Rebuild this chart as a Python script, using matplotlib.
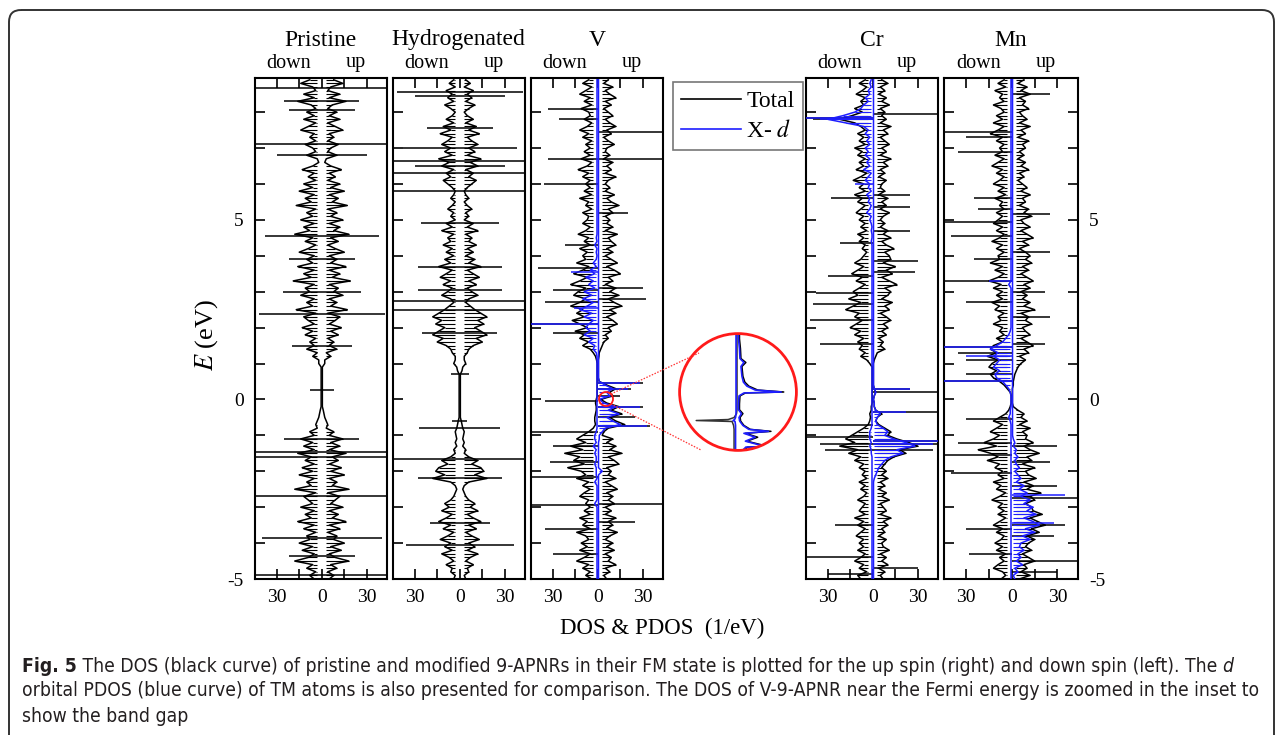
import numpy as np
import matplotlib
matplotlib.use("Agg")
import matplotlib.pyplot as plt
from matplotlib import patches
from matplotlib.lines import Line2D
from matplotlib.font_manager import fontManager

plt.rcParams['font.family'] = ['Liberation Serif', 'DejaVu Serif']
plt.rcParams['mathtext.fontset'] = 'stix'

W, H = 1281, 735

# ---------------- data (energy grid 8.9 ... -5.0 eV, step 0.1) ----------------
E_TOP, E_STEP, N_E = 8.9, 0.1, 140
energy = np.round(E_TOP - E_STEP * np.arange(N_E), 2)

panel_titles = ['Pristine', 'Hydrogenated', 'V', 'Cr', 'Mn']
xtick_vals = [-30, -15, 0, 15, 30]
xtick_labels = ['30', '', '0', '', '30']
ytick_labels = {5: '5', 0: '0', -5: '-5'}

# Pristine (non-magnetic: up = down)
pristine_dos = [
    8, 14, 6, 4, 12, 5, 16, 7, 4, 10,
    5, 12, 4, 9, 14, 5, 8, 4, 11, 6,
    4, 10, 3, 2, 6, 13, 5, 9, 4, 12,
    6, 15, 5, 11, 7, 17, 4, 10, 6, 14,
    5, 12, 8, 18, 6, 11, 4, 9, 15, 5,
    10, 6, 16, 5, 12, 7, 19, 5, 11, 8,
    14, 5, 10, 6, 17, 4, 12, 9, 5, 13,
    6, 11, 4, 8, 5, 10, 3, 6, 2, 2,
    0.4, 0.4, 0.4, 0.4, 0.4, 0.4, 0.4, 0.4, 0.4, 0.4,
    0.4, 0.4, 1, 1.5, 2, 3, 4, 3, 8, 5,
    14, 6, 12, 5, 16, 7, 11, 5, 13, 6,
    15, 5, 10, 7, 18, 4, 12, 9, 6, 14,
    5, 11, 7, 16, 5, 12, 4, 10, 8, 15,
    6, 13, 5, 9, 18, 6, 10, 4, 8, 5]
pristine_spikes = [(8.66, 60), (8.3, 25), (8.05, 22), (7.1, 60), (6.8, 30), (4.55, 38),
                   (3.9, 22), (3.0, 26), (2.37, 42), (1.5, 20), (0.25, 8), (-1.1, 25),
                   (-1.45, 60), (-1.6, 60), (-2.7, 60), (-3.85, 40), (-4.35, 22), (-4.88, 60)]

# Hydrogenated (non-magnetic: up = down)
hydro_dos = [
    4, 7, 3, 9, 5, 8, 4, 10, 6, 3,
    5, 9, 4, 11, 6, 13, 5, 8, 12, 6,
    10, 5, 14, 7, 12, 4, 9, 6, 11, 8,
    5, 3, 4, 6, 3, 5, 8, 4, 6, 3,
    9, 5, 12, 4, 8, 6, 11, 5, 9, 4,
    10, 6, 14, 5, 9, 13, 6, 11, 5, 8,
    12, 6, 4, 7, 10, 14, 18, 12, 16, 10,
    14, 18, 11, 15, 9, 6, 5, 3, 3, 4,
    2, 1.5, 0.4, 0.4, 0.4, 0.4, 0.4, 0.4, 0.4, 0.4,
    0.4, 0.4, 0.4, 0.4, 0.4, 1, 1.5, 2, 3, 2.5,
    2, 3, 2, 4, 3, 6, 12, 8, 14, 16,
    10, 18, 6, 3, 2, 3, 4, 6, 10, 7,
    12, 5, 9, 14, 6, 11, 4, 8, 13, 6,
    10, 5, 12, 7, 4, 9, 5, 6, 3, 4]
hydro_spikes = [(8.55, 42), (8.45, 30), (7.55, 22), (7.0, 38), (6.65, 60), (6.5, 30),
                (6.3, 60), (5.8, 60), (4.9, 26), (3.7, 28), (3.05, 28), (2.75, 60),
                (2.5, 45), (1.85, 25), (0.7, 6), (-0.6, 5), (-0.8, 27), (-1.65, 60),
                (-2.2, 28), (-3.45, 20), (-4.05, 36)]

# V
v_dn = [
    6, 10, 4, 8, 12, 5, 9, 4, 11, 6,
    5, 9, 4, 7, 12, 6, 10, 4, 8, 5,
    9, 5, 11, 4, 7, 13, 6, 10, 5, 8,
    5, 9, 4, 12, 6, 8, 4, 10, 6, 7,
    10, 5, 8, 13, 6, 9, 5, 12, 7, 10,
    8, 14, 6, 10, 16, 7, 12, 18, 8, 13,
    16, 8, 12, 18, 10, 14, 9, 17, 12, 7,
    15, 9, 12, 6, 10, 5, 3, 1.5, 0.8, 0.4,
    0.4, 0.4, 0.4, 0.4, 0.4, 0.4, 0.4, 0.4, 0.4, 1,
    1.5, 1, 1, 1.5, 2, 2, 1.5, 3, 6, 10,
    14, 8, 18, 10, 22, 12, 16, 9, 20, 11,
    8, 14, 6, 10, 5, 9, 12, 6, 8, 5,
    9, 5, 12, 7, 10, 5, 14, 8, 6, 11,
    7, 12, 5, 9, 14, 6, 10, 5, 8, 4]
v_dn_spikes = [(8.1, 33), (7.8, 26), (6.7, 33), (6.0, 36), (4.3, 22), (3.65, 40), (3.05, 30),
               (2.7, 35), (2.1, 60), (1.85, 30), (-0.05, 35), (-0.9, 60), (-1.3, 30),
               (-1.75, 32), (-2.15, 60), (-2.95, 60), (-3.6, 35), (-4.3, 30)]
v_up = [
    7, 4, 10, 5, 8, 12, 5, 9, 4, 7,
    10, 5, 8, 12, 6, 9, 4, 7, 11, 6,
    5, 8, 4, 10, 6, 9, 5, 12, 7, 5,
    8, 5, 11, 6, 9, 14, 7, 10, 5, 8,
    6, 10, 5, 13, 7, 9, 12, 6, 10, 5,
    9, 13, 6, 11, 15, 7, 10, 5, 12, 8,
    14, 7, 11, 16, 8, 12, 6, 10, 13, 7,
    9, 5, 7, 4, 3, 2, 1, 0.8, 0.4, 0.4,
    0.4, 0.4, 0.4, 0.4, 1, 6, 12, 8, 10, 2,
    6, 14, 9, 16, 8, 12, 18, 7, 4, 3,
    10, 6, 12, 8, 16, 7, 11, 14, 6, 9,
    7, 12, 5, 9, 13, 6, 10, 7, 11, 5,
    9, 5, 12, 7, 10, 6, 13, 8, 5, 10,
    6, 11, 5, 9, 7, 12, 5, 8, 4, 6]
v_up_spikes = [(7.45, 60), (6.7, 60), (5.2, 20), (3.1, 30), (2.8, 32), (0.45, 30), (0.3, 22),
               (0.1, 15), (-0.2, 30), (-0.5, 25), (-0.75, 35), (-2.9, 60), (-3.4, 25)]
v_d_dn = [
    0.5, 0.5, 0.5, 0.5, 0.5, 0.5, 0.5, 0.5, 0.5, 0.5,
    0.5, 0.5, 0.5, 0.5, 0.5, 0.5, 0.5, 0.5, 0.5, 0.5,
    0.5, 0.5, 0.5, 0.5, 0.5, 0.5, 0.5, 0.5, 0.5, 0.5,
    0.5, 0.5, 0.5, 0.5, 0.5, 0.5, 0.5, 0.5, 0.5, 0.5,
    0.5, 0.5, 0.5, 0.5, 1, 0.5, 2, 0.5, 1, 0.5,
    1, 3, 1, 5, 2, 8, 3, 6, 2, 9,
    4, 10, 3, 7, 12, 4, 9, 3, 6, 8,
    5, 9, 3, 6, 2, 3, 1, 0.5, 0.5, 0.5,
    0.5, 0.5, 0.5, 0.5, 0.5, 0.5, 0.5, 0.5, 0.5, 0.5,
    0.5, 0.5, 0.5, 0.5, 0.5, 0.5, 0.5, 0.5, 1, 2,
    2, 1, 3, 1, 2, 1, 1, 2, 1, 1,
    1, 0.5, 2, 0.5, 0.5, 0.5, 0.5, 0.5, 2, 0.5,
    0.5, 0.5, 0.5, 0.5, 0.5, 0.5, 0.5, 0.5, 0.5, 0.5,
    0.5, 0.5, 0.5, 0.5, 0.5, 0.5, 0.5, 0.5, 0.5, 0.5]
v_d_dn_spikes = [(3.55, 18), (2.55, 16), (2.1, 45)]
v_d_up = [
    0.5, 0.5, 0.5, 0.5, 0.5, 0.5, 0.5, 0.5, 0.5, 0.5,
    0.5, 0.5, 0.5, 0.5, 0.5, 0.5, 0.5, 0.5, 0.5, 0.5,
    0.5, 0.5, 0.5, 0.5, 0.5, 0.5, 0.5, 0.5, 0.5, 0.5,
    0.5, 0.5, 0.5, 0.5, 0.5, 0.5, 0.5, 0.5, 0.5, 0.5,
    0.5, 0.5, 0.5, 0.5, 0.5, 0.5, 0.5, 0.5, 0.5, 0.5,
    0.5, 0.5, 0.5, 0.5, 0.5, 0.5, 0.5, 0.5, 0.5, 0.5,
    0.5, 0.5, 0.5, 0.5, 0.5, 0.5, 0.5, 0.5, 0.5, 0.5,
    0.5, 0.5, 0.5, 0.5, 0.5, 0.5, 0.5, 0.5, 0.5, 0.5,
    0.5, 0.5, 0.5, 0.5, 1, 5, 10, 6, 8, 1,
    4, 12, 7, 14, 6, 10, 15, 5, 3, 1,
    1, 0.5, 0.5, 0.5, 0.5, 0.5, 0.5, 0.5, 0.5, 3,
    0.5, 0.5, 0.5, 0.5, 0.5, 0.5, 0.5, 0.5, 0.5, 0.5,
    0.5, 0.5, 0.5, 0.5, 0.5, 0.5, 0.5, 0.5, 0.5, 0.5,
    0.5, 0.5, 0.5, 0.5, 0.5, 0.5, 0.5, 0.5, 0.5, 0.5]
v_d_up_spikes = [(0.45, 28), (0.3, 20), (-0.2, 28), (-0.75, 33)]

# Cr
cr_dn = [
    5, 9, 4, 7, 11, 5, 8, 6, 12, 7,
    14, 22, 12, 8, 5, 10, 6, 9, 5, 12,
    7, 10, 5, 9, 6, 11, 4, 8, 13, 6,
    9, 5, 12, 7, 10, 5, 8, 11, 6, 9,
    5, 8, 4, 10, 6, 9, 5, 7, 4, 6,
    8, 12, 6, 10, 14, 7, 11, 5, 9, 13,
    10, 16, 8, 13, 18, 9, 12, 7, 11, 15,
    8, 12, 6, 10, 7, 9, 5, 8, 4, 2,
    0.4, 0.4, 0.4, 0.4, 0.4, 0.4, 0.4, 0.4, 0.4, 0.4,
    0.4, 1, 1, 2, 1.5, 2, 3, 6, 10, 14,
    18, 12, 22, 10, 16, 8, 12, 6, 9, 5,
    7, 4, 9, 5, 8, 4, 6, 10, 5, 7,
    9, 5, 12, 6, 10, 5, 8, 11, 6, 9,
    6, 10, 5, 8, 12, 6, 9, 4, 10, 8]
cr_dn_spikes = [(7.85, 60), (7.8, 40), (5.6, 28), (4.35, 22), (3.45, 30), (2.95, 38),
                (2.65, 40), (2.2, 42), (1.55, 35), (-0.72, 60), (-1.05, 60), (-1.25, 35),
                (-1.4, 32), (-3.5, 25), (-4.4, 45), (-4.85, 30)]
cr_up = [
    6, 10, 5, 8, 4, 9, 6, 11, 5, 8,
    6, 9, 5, 12, 7, 10, 5, 8, 11, 6,
    9, 5, 12, 7, 10, 5, 8, 4, 9, 6,
    5, 8, 4, 10, 6, 9, 5, 11, 7, 5,
    8, 5, 10, 7, 12, 6, 9, 14, 8, 11,
    12, 7, 15, 9, 13, 6, 11, 16, 8, 12,
    10, 6, 13, 8, 11, 5, 9, 12, 7, 10,
    6, 9, 4, 7, 5, 8, 3, 2, 1, 0.4,
    0.4, 0.4, 0.4, 0.4, 0.4, 0.4, 1, 2, 1, 0.4,
    1, 1, 2, 6, 3, 2, 4, 8, 12, 10,
    16, 24, 30, 18, 22, 14, 10, 8, 6, 9,
    6, 10, 5, 8, 4, 9, 6, 11, 5, 7,
    9, 5, 12, 7, 10, 6, 8, 4, 9, 6,
    7, 11, 5, 9, 6, 10, 4, 8, 5, 7]
cr_up_spikes = [(7.95, 60), (5.7, 25), (5.35, 25), (4.7, 25), (3.85, 30), (3.55, 28),
                (0.3, 25), (0.22, 60), (-0.35, 60), (-1.15, 60), (-1.25, 60), (-1.4, 40),
                (-4.7, 30)]
cr_d_dn = [
    1, 2, 1, 3, 2, 5, 3, 6, 8, 12,
    20, 30, 18, 6, 3, 5, 2, 4, 2, 5,
    3, 5, 2, 4, 2, 6, 1, 3, 5, 2,
    3, 1, 4, 2, 3, 1, 2, 4, 1, 2,
    1, 0.5, 1, 0.5, 0.5, 1, 0.5, 0.5, 0.5, 0.5,
    0.5, 0.5, 0.5, 0.5, 0.5, 0.5, 0.5, 0.5, 0.5, 0.5,
    0.5, 0.5, 0.5, 0.5, 0.5, 0.5, 0.5, 0.5, 0.5, 0.5,
    0.5, 0.5, 0.5, 0.5, 0.5, 0.5, 0.5, 0.5, 0.5, 0.5,
    0.5, 0.5, 0.5, 0.5, 0.5, 0.5, 0.5, 0.5, 0.5, 0.5,
    0.5, 0.5, 0.5, 0.5, 0.5, 0.5, 0.5, 1, 2, 2,
    2, 1, 2, 1, 1, 0.5, 0.5, 0.5, 0.5, 0.5,
    0.5, 0.5, 0.5, 0.5, 0.5, 0.5, 0.5, 0.5, 0.5, 0.5,
    0.5, 0.5, 0.5, 0.5, 0.5, 0.5, 0.5, 0.5, 0.5, 0.5,
    0.5, 0.5, 0.5, 0.5, 0.5, 0.5, 0.5, 0.5, 0.5, 0.5]
cr_d_dn_spikes = [(7.85, 60), (7.8, 35), (6.0, 12)]
cr_d_up = [
    0.5, 0.5, 0.5, 0.5, 0.5, 0.5, 0.5, 0.5, 0.5, 0.5,
    0.5, 0.5, 0.5, 0.5, 0.5, 0.5, 0.5, 0.5, 0.5, 0.5,
    0.5, 0.5, 0.5, 0.5, 0.5, 0.5, 0.5, 0.5, 0.5, 0.5,
    0.5, 0.5, 0.5, 0.5, 0.5, 0.5, 0.5, 0.5, 0.5, 0.5,
    0.5, 0.5, 0.5, 0.5, 0.5, 0.5, 0.5, 0.5, 0.5, 0.5,
    0.5, 0.5, 0.5, 0.5, 0.5, 0.5, 0.5, 0.5, 0.5, 0.5,
    0.5, 0.5, 0.5, 0.5, 0.5, 0.5, 0.5, 0.5, 0.5, 0.5,
    0.5, 0.5, 0.5, 0.5, 0.5, 0.5, 0.5, 0.5, 0.5, 0.5,
    0.5, 0.5, 0.5, 0.5, 0.5, 0.5, 1, 2, 1, 0.5,
    1, 1, 2, 5, 3, 2, 3, 7, 10, 8,
    14, 22, 28, 16, 20, 12, 8, 6, 4, 3,
    2, 1, 0.5, 0.5, 0.5, 0.5, 0.5, 0.5, 0.5, 0.5,
    0.5, 0.5, 0.5, 0.5, 0.5, 0.5, 0.5, 0.5, 0.5, 0.5,
    0.5, 0.5, 0.5, 0.5, 0.5, 0.5, 0.5, 0.5, 0.5, 0.5]
cr_d_up_spikes = [(0.3, 25), (-0.35, 22), (-1.15, 50), (-1.25, 40)]

# Mn
mn_dn = [
    5, 9, 4, 11, 6, 8, 5, 12, 7, 5,
    10, 6, 12, 5, 9, 14, 6, 10, 5, 8,
    6, 11, 5, 9, 13, 6, 10, 5, 8, 12,
    5, 9, 4, 11, 6, 8, 5, 10, 6, 9,
    12, 6, 10, 5, 8, 13, 6, 10, 5, 9,
    8, 14, 6, 11, 5, 9, 15, 7, 12, 6,
    10, 6, 13, 8, 11, 5, 9, 7, 12, 6,
    8, 5, 10, 6, 12, 14, 10, 16, 9, 13,
    15, 10, 14, 12, 8, 5, 3, 1, 0.4, 0.4,
    0.4, 1, 2, 4, 8, 12, 6, 10, 14, 8,
    12, 18, 10, 22, 14, 9, 16, 8, 11, 6,
    9, 5, 12, 7, 10, 4, 8, 13, 6, 9,
    5, 9, 4, 8, 12, 6, 10, 5, 7, 11,
    6, 10, 4, 8, 5, 9, 12, 6, 4, 7]
mn_dn_spikes = [(7.45, 60), (7.3, 30), (6.9, 35), (5.6, 25), (5.3, 22), (4.95, 60), (4.55, 40),
                (3.9, 25), (3.3, 60), (2.7, 30), (1.45, 60), (1.3, 35), (1.1, 30), (0.7, 30),
                (0.5, 60), (-0.55, 30), (-1.2, 35), (-1.55, 60), (-2.05, 40), (-3.6, 30),
                (-4.3, 28)]
mn_up = [
    8, 4, 10, 6, 12, 5, 9, 7, 11, 5,
    7, 10, 5, 12, 6, 9, 4, 11, 7, 9,
    5, 8, 4, 9, 6, 11, 5, 8, 4, 7,
    10, 6, 12, 7, 9, 5, 11, 8, 13, 6,
    8, 12, 6, 10, 14, 7, 11, 5, 9, 12,
    9, 13, 7, 11, 6, 10, 14, 8, 12, 6,
    10, 7, 12, 8, 15, 6, 11, 9, 13, 7,
    9, 12, 6, 10, 14, 8, 11, 5, 9, 6,
    4, 3, 2, 1.5, 1, 1, 0.4, 0.4, 0.4, 0.4,
    0.4, 1, 4, 8, 6, 10, 5, 12, 7, 10,
    9, 14, 8, 12, 18, 10, 13, 7, 15, 9,
    11, 16, 8, 14, 10, 19, 12, 15, 9, 13,
    14, 20, 12, 17, 22, 13, 18, 10, 15, 11,
    9, 13, 7, 11, 15, 8, 10, 6, 12, 5]
mn_up_spikes = [(8.5, 25), (5.15, 25), (4.1, 25), (3.0, 22), (2.3, 25), (1.55, 22),
                (-1.3, 30), (-1.75, 25), (-2.4, 30), (-2.75, 60), (-3.5, 35), (-3.8, 28),
                (-4.5, 60), (-4.8, 30)]
mn_d_dn = [
    0.5, 0.5, 0.5, 0.5, 0.5, 0.5, 0.5, 0.5, 0.5, 0.5,
    0.5, 0.5, 0.5, 0.5, 0.5, 0.5, 0.5, 0.5, 0.5, 0.5,
    0.5, 0.5, 0.5, 0.5, 0.5, 0.5, 0.5, 0.5, 0.5, 0.5,
    0.5, 0.5, 0.5, 0.5, 0.5, 0.5, 0.5, 0.5, 0.5, 0.5,
    0.5, 0.5, 0.5, 0.5, 0.5, 0.5, 0.5, 0.5, 0.5, 0.5,
    0.5, 0.5, 0.5, 0.5, 0.5, 0.5, 0.5, 2, 0.5, 0.5,
    0.5, 0.5, 0.5, 0.5, 0.5, 0.5, 0.5, 0.5, 0.5, 0.5,
    1, 2, 4, 6, 10, 14, 9, 12, 8, 10,
    12, 8, 11, 10, 6, 4, 2, 1, 0.5, 0.5,
    0.5, 0.5, 1, 1, 2, 1, 0.5, 0.5, 0.5, 0.5,
    0.5, 0.5, 0.5, 0.5, 0.5, 0.5, 0.5, 0.5, 0.5, 0.5,
    0.5, 0.5, 0.5, 0.5, 0.5, 0.5, 0.5, 0.5, 0.5, 0.5,
    0.5, 0.5, 0.5, 0.5, 0.5, 0.5, 0.5, 0.5, 0.5, 0.5,
    0.5, 0.5, 0.5, 0.5, 0.5, 0.5, 0.5, 0.5, 0.5, 0.5]
mn_d_dn_spikes = [(1.45, 60), (1.2, 30), (0.5, 60), (3.3, 15)]
mn_d_up = [
    0.5, 0.5, 0.5, 0.5, 0.5, 0.5, 0.5, 0.5, 0.5, 0.5,
    0.5, 0.5, 0.5, 0.5, 0.5, 0.5, 0.5, 0.5, 0.5, 0.5,
    0.5, 0.5, 0.5, 0.5, 0.5, 0.5, 0.5, 0.5, 0.5, 0.5,
    0.5, 0.5, 0.5, 0.5, 0.5, 0.5, 0.5, 0.5, 0.5, 0.5,
    0.5, 0.5, 0.5, 0.5, 0.5, 0.5, 0.5, 0.5, 0.5, 0.5,
    0.5, 0.5, 0.5, 0.5, 0.5, 0.5, 0.5, 0.5, 0.5, 0.5,
    0.5, 0.5, 0.5, 0.5, 0.5, 0.5, 0.5, 0.5, 0.5, 0.5,
    0.5, 0.5, 0.5, 0.5, 0.5, 0.5, 0.5, 0.5, 0.5, 0.5,
    0.5, 0.5, 0.5, 0.5, 0.5, 0.5, 0.5, 0.5, 0.5, 0.5,
    0.5, 0.5, 0.5, 0.5, 0.5, 0.5, 0.5, 0.5, 0.5, 0.5,
    1, 2, 1, 3, 2, 4, 2, 3, 5, 2,
    4, 6, 3, 8, 5, 10, 6, 12, 8, 14,
    10, 16, 8, 14, 18, 9, 15, 7, 12, 6,
    5, 8, 4, 6, 3, 7, 2, 4, 1, 2]
mn_d_up_spikes = [(-2.65, 35), (-3.45, 28)]

# Inset: V DOS near the Fermi level
inset_E = [0.30, 0.27, 0.22, 0.17, 0.15, 0.13, 0.08, 0.05, 0.03, 0.01, 0.0, -0.005, -0.02,
           -0.06, -0.09, -0.11, -0.13, -0.14, -0.145, -0.15, -0.17, -0.19, -0.20, -0.21,
           -0.23, -0.25, -0.27, -0.275, -0.28, -0.30]
inset_up_total = [0.3, 0.3, 0.5, 0.6, 1.6, 0.8, 1.0, 1.4, 2.2, 4.0, 9.3, 1.5, 0.4, 0.3, 0.3,
                  1.0, 0.4, 0.5, 0.5, 0.6, 1.2, 2.5, 6.7, 1.5, 4.0, 1.8, 5.0, 9.8, 2.0, 1.0]
inset_up_d = [0.1, 0.1, 0.3, 0.4, 1.2, 0.6, 0.8, 1.1, 1.8, 3.5, 8.8, 1.2, 0.2, 0.1, 0.1,
              0.7, 0.2, 0.3, 0.3, 0.4, 1.0, 2.2, 6.2, 1.2, 3.5, 1.5, 4.5, 9.0, 1.6, 0.8]
inset_dn_total = [0.2, 0.2, 0.2, 0.2, 0.2, 0.2, 0.2, 0.2, 0.2, 0.2, 0.2, 0.2, 0.2, 0.2, 0.2,
                  0.3, 0.8, 2.0, 8.5, 1.2, 0.9, 0.8, 0.8, 0.8, 0.8, 0.8, 0.8, 0.8, 0.8, 0.8]
inset_dn_d = [0.4, 0.4, 0.4, 0.4, 0.4, 0.4, 0.4, 0.4, 0.4, 0.4, 0.4, 0.4, 0.4, 0.4, 0.4,
              0.4, 0.5, 0.7, 1.0, 0.6, 0.5, 0.5, 0.5, 0.5, 0.5, 0.5, 0.5, 0.5, 0.5, 0.5]

legend_labels = ['Total', r'X- $\mathit{d}$']

# ---------------- styling ----------------
BLACK = '#000000'
BLUE = '#1e1eff'
panel_px = [(255, 387), (393, 525), (531, 663), (806, 938), (944, 1078)]
TOP_PX, BOT_PX = 78, 579
XLIM = (-44.5, 43.5)
YLIM = (-5.0, 8.95)
COMB_FLOOR = 3.0


def fx(x):
    return x / W


def fy(y):
    return 1 - y / H


def draw_side(ax, vals, spikes, sign, color, lw, z, comb_floor):
    v = np.asarray(vals, float)
    ax.plot(sign * v, energy, color=color, lw=lw, zorder=z)
    # dense comb between the floor and each sampled value (darkens the band like the original)
    m = v > comb_floor
    if m.any():
        ax.hlines(energy[m], sign * comb_floor, sign * v[m], color=color, lw=0.8, zorder=z)
    if spikes:
        ax.hlines([e for e, s in spikes], 0, [sign * s for e, s in spikes], color=color,
                  lw=lw, zorder=z)


fig = plt.figure(figsize=(W / 100, H / 100), dpi=100)
fig.patch.set_facecolor('white')

panels = [
    (pristine_dos, pristine_dos, pristine_spikes, pristine_spikes, None, None, [], []),
    (hydro_dos, hydro_dos, hydro_spikes, hydro_spikes, None, None, [], []),
    (v_dn, v_up, v_dn_spikes, v_up_spikes, v_d_dn, v_d_up, v_d_dn_spikes, v_d_up_spikes),
    (cr_dn, cr_up, cr_dn_spikes, cr_up_spikes, cr_d_dn, cr_d_up, cr_d_dn_spikes, cr_d_up_spikes),
    (mn_dn, mn_up, mn_dn_spikes, mn_up_spikes, mn_d_dn, mn_d_up, mn_d_dn_spikes, mn_d_up_spikes),
]

for i, ((l, r), title, pdata) in enumerate(zip(panel_px, panel_titles, panels)):
    ax = fig.add_axes([fx(l), fy(BOT_PX), (r - l) / W, (BOT_PX - TOP_PX) / H])
    dn, up, dn_s, up_s, pd_dn, pd_up, pd_dn_s, pd_up_s = pdata
    draw_side(ax, dn, dn_s, -1, BLACK, 1.1, 2, COMB_FLOOR)
    draw_side(ax, up, up_s, 1, BLACK, 1.1, 2, COMB_FLOOR)
    if pd_dn is not None:
        draw_side(ax, pd_dn, pd_dn_s, -1, BLUE, 1.1, 3, 1.0)
        draw_side(ax, pd_up, pd_up_s, 1, BLUE, 1.1, 3, 1.0)
    ax.set_xlim(*XLIM)
    ax.set_ylim(*YLIM)
    ax.set_xticks(xtick_vals)
    ax.set_xticklabels(xtick_labels)
    ax.set_yticks(list(range(-5, 9)))
    ax.set_yticklabels([ytick_labels.get(v, '') for v in range(-5, 9)])
    ax.tick_params(axis='x', direction='in', top=True, bottom=True, length=7, width=1.2,
                   labelsize=14, pad=7)
    ax.tick_params(axis='y', direction='in', left=True, right=(i == 4), length=7, width=1.2,
                   labelsize=14, labelleft=(i == 0), labelright=(i == 4), pad=8)
    for s in ax.spines.values():
        s.set_linewidth(1.5)
    x0 = l + (0 - XLIM[0]) / (XLIM[1] - XLIM[0]) * (r - l)
    fig.text(fx(x0 - 1), fy(40), title, ha='center', va='center', fontsize=17)
    fig.text(fx(x0 - 33), fy(63), 'down', ha='center', va='center', fontsize=14.5)
    fig.text(fx(x0 + 34), fy(63), 'up', ha='center', va='center', fontsize=14.5)

fig.text(fx(207), fy(335), r'$\mathit{E}$ (eV)', rotation=90, ha='center', va='center', fontsize=19)
fig.text(fx(662), fy(628), 'DOS & PDOS  (1/eV)', ha='center', va='center', fontsize=16.5)

# legend
handles = [Line2D([], [], color=BLACK, lw=1.2), Line2D([], [], color=BLUE, lw=1.2)]
leg = fig.legend(handles, legend_labels, loc='upper left', bbox_to_anchor=(fx(673), fy(82)),
                 bbox_transform=fig.transFigure, frameon=True, fancybox=False,
                 edgecolor='#555555', fontsize=17, handlelength=2.55, borderaxespad=0,
                 borderpad=0.35, labelspacing=0.35, handletextpad=0.2)
leg.get_frame().set_linewidth(1.2)

# inset (circle)
ins = fig.add_axes([fx(679), fy(451), 118 / W, 118 / H])
ins.set_xlim(-12, 12)
ins.set_ylim(-0.3, 0.3)
ins.axis('off')
clip_c = patches.Circle((0.5, 0.5), 0.5, transform=ins.transAxes, facecolor='none', edgecolor='none')
ins.add_patch(clip_c)
for vals, sign, col, lw, z in [(inset_dn_total, -1, '#333333', 1.1, 2), (inset_up_total, 1, BLACK, 1.1, 2),
                               (inset_dn_d, -1, BLUE, 1.2, 3), (inset_up_d, 1, BLUE, 1.2, 3)]:
    ln, = ins.plot(sign * np.asarray(vals), inset_E, color=col, lw=lw, zorder=z)
    ln.set_clip_path(clip_c)
ins.add_patch(patches.Circle((0.5, 0.5), 0.495, transform=ins.transAxes, facecolor='none',
                             edgecolor='#ff1a1a', lw=2.0, zorder=5, clip_on=False))

# overlay: frame, small circle, dotted connectors, caption
ov = fig.add_axes([0, 0, 1, 1], zorder=10)
ov.set_xlim(0, W)
ov.set_ylim(H, 0)
ov.axis('off')
ov.patch.set_alpha(0)
ov.add_patch(patches.FancyBboxPatch((9, 10), 1265, 760, boxstyle='round,pad=0,rounding_size=12',
                                    facecolor='none', edgecolor='#333333', lw=1.4, clip_on=False))
ov.add_patch(patches.Circle((606, 399), 7, facecolor='none', edgecolor='#ff1a1a', lw=1.3))
ov.plot([611, 699], [394, 353], ls=(0, (1.2, 1.2)), color='#ff3333', lw=0.9)
ov.plot([611, 701], [404, 450], ls=(0, (1.2, 1.2)), color='#ff3333', lw=0.9)

names = {f.name for f in fontManager.ttflist}
if 'Liberation Sans Narrow' in names:
    cap_kw = dict(family=['Liberation Sans Narrow', 'DejaVu Sans'])
else:
    cap_kw = dict(family=['DejaVu Sans'], stretch='condensed')
CAP = '#231f20'
fs0 = 12
t_fig = ov.text(22, 666, 'Fig. 5', fontsize=fs0, weight='bold', va='center', ha='left', color=CAP, **cap_kw)
t_l1 = ov.annotate(' The DOS (black curve) of pristine and modified 9-APNRs in their FM state is plotted '
                   'for the up spin (right) and down spin (left). The ', xy=(1, 0), xycoords=t_fig,
                   va='bottom', ha='left', fontsize=fs0, color=CAP, annotation_clip=False, **cap_kw)
t_d = ov.annotate('d', xy=(1, 0), xycoords=t_l1, va='bottom', ha='left', fontsize=fs0, style='italic',
                  color=CAP, annotation_clip=False, **cap_kw)
t_l2 = ov.text(22, 691, 'orbital PDOS (blue curve) of TM atoms is also presented for comparison. The DOS of '
               'V-9-APNR near the Fermi energy is zoomed in the inset to', fontsize=fs0, va='center',
               ha='left', color=CAP, **cap_kw)
t_l3 = ov.text(22, 716, 'show the band gap', fontsize=fs0, va='center', ha='left', color=CAP, **cap_kw)
cap_texts = [t_fig, t_l1, t_d, t_l2, t_l3]
renderer = fig.canvas.get_renderer()
w2 = t_l2.get_window_extent(renderer).width
scale = 1236.0 / w2
for t in cap_texts:
    t.set_fontsize(fs0 * scale)

fig.savefig('out.png', dpi=100, facecolor='white')
